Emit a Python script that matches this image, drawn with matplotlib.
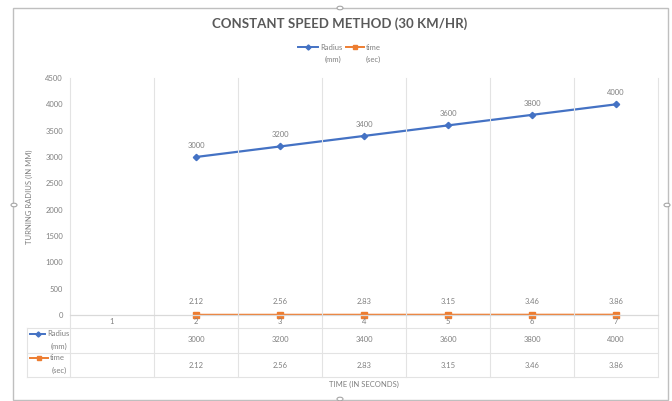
import numpy as np
import matplotlib.pyplot as plt
from matplotlib.lines import Line2D
from matplotlib.patches import Rectangle, Circle
from matplotlib.transforms import blended_transform_factory

categories = ["1", "2", "3", "4", "5", "6", "7"]
radius_mm = [np.nan, 3000, 3200, 3400, 3600, 3800, 4000]
time_sec = [np.nan, 2.12, 2.56, 2.83, 3.15, 3.46, 3.86]
radius_labels = ["", "3000", "3200", "3400", "3600", "3800", "4000"]
time_labels = ["", "2.12", "2.56", "2.83", "3.15", "3.46", "3.86"]
y_ticks = [0, 500, 1000, 1500, 2000, 2500, 3000, 3500, 4000, 4500]

BLUE = "#4472C4"
ORANGE = "#ED7D31"
TXT = "#808080"
TITLE = "#595959"
GRID = "#E3E3E3"
FONT = ["Lato", "DejaVu Sans"]

W, H = 672, 401
fig = plt.figure(figsize=(W / 100, H / 100), dpi=100)
plt.rcParams["font.family"] = FONT


def fx(px):
    return px / W


def fy(py):
    return 1 - py / H


def key(x0, x1, y, color, marker, ms):
    fig.add_artist(Line2D([fx(x0), fx(x1)], [fy(y), fy(y)], transform=fig.transFigure,
                          color=color, lw=1.4))
    fig.add_artist(Line2D([fx((x0 + x1) / 2)], [fy(y)], transform=fig.transFigure,
                          color=color, marker=marker, ms=ms, lw=0))


# chart frame with selection handles
fig.patches.append(Rectangle((fx(13), fy(400)), fx(668) - fx(13), fy(8) - fy(400),
                             transform=fig.transFigure, fill=False,
                             edgecolor="#BFBFBF", lw=1.0))
for hx, hy in [(14, 205), (667, 205), (340, 8), (340, 399)]:
    fig.patches.append(Circle((fx(hx), fy(hy)), 3 / W, transform=fig.transFigure,
                              facecolor="white", edgecolor="#A6A6A6", lw=0.8))

x = np.arange(1, len(categories) + 1)

ax = fig.add_axes([fx(70), fy(315), fx(658) - fx(70), fy(78) - fy(315)])
ax.set_xlim(0.5, len(categories) + 0.5)
ax.set_ylim(0, 4500)
for s in ax.spines.values():
    s.set_visible(False)
ax.set_xticks([])
ax.set_yticks(y_ticks)
ax.set_yticklabels([str(v) for v in y_ticks], fontsize=5.5, color=TXT)
ax.tick_params(axis="y", length=0, pad=5)

ax.plot(x, radius_mm, color=BLUE, lw=1.6, marker="D", ms=3.2, zorder=3)
ax.plot(x, time_sec, color=ORANGE, lw=1.6, marker="s", ms=4, zorder=3, clip_on=False)

for xi, v, lab in zip(x, radius_mm, radius_labels):
    if lab:
        ax.annotate(lab, (xi, v), xytext=(0, 8.5), textcoords="offset points",
                    ha="center", va="center", fontsize=5.5, color=TXT)
for xi, v, lab in zip(x, time_sec, time_labels):
    if lab:
        ax.annotate(lab, (xi, v), xytext=(0, 9.5), textcoords="offset points",
                    ha="center", va="center", fontsize=5.5, color=TXT)

ax.set_ylabel("TURNING RADIUS (IN MM)", fontsize=5.5, color=TXT, labelpad=9)

# data table under the plot
tr = blended_transform_factory(ax.transData, fig.transFigure)
head_left = 0.5 - (70 - 27) / 84.0
top_y, cat_y, r1_y, r2_y = 78, 328, 353, 377

for b in np.arange(0.5, len(categories) + 1):
    fig.add_artist(Line2D([b, b], [fy(top_y), fy(r2_y)], transform=tr,
                          color=GRID, lw=0.8))
fig.add_artist(Line2D([head_left, head_left], [fy(cat_y), fy(r2_y)], transform=tr,
                      color=GRID, lw=0.8))
fig.add_artist(Line2D([0.5, len(categories) + 0.5], [fy(315), fy(315)], transform=tr,
                      color="#D9D9D9", lw=0.9))
for yy in (cat_y, r1_y, r2_y):
    fig.add_artist(Line2D([head_left, len(categories) + 0.5], [fy(yy), fy(yy)],
                          transform=tr, color=GRID, lw=0.8))

for xi, c in zip(x, categories):
    fig.text(xi, fy(321), c, transform=tr, ha="center", va="center",
             fontsize=5.5, color=TXT)
for xi, lab in zip(x, radius_labels):
    fig.text(xi, fy(340), lab, transform=tr, ha="center", va="center",
             fontsize=5.5, color=TXT)
for xi, lab in zip(x, time_labels):
    fig.text(xi, fy(365), lab, transform=tr, ha="center", va="center",
             fontsize=5.5, color=TXT)

# row headers with legend keys
key(30, 45, 334, BLUE, "D", 2.6)
fig.text(fx(47), fy(334), "Radius", ha="left", va="center", fontsize=5.5, color=TXT)
fig.text(fx(67), fy(346), "(mm)", ha="right", va="center", fontsize=5.5, color=TXT)
key(30, 48, 358, ORANGE, "s", 3)
fig.text(fx(50), fy(358), "time", ha="left", va="center", fontsize=5.5, color=TXT)
fig.text(fx(67), fy(370), "(sec)", ha="right", va="center", fontsize=5.5, color=TXT)

fig.text(fx(364), fy(384), "TIME (IN SECONDS)", ha="center", va="center",
         fontsize=5.5, color=TXT)

# title and legend
fig.text(fx(340), fy(24), "CONSTANT SPEED METHOD (30 KM/HR)", ha="center", va="center",
         fontsize=9.5, fontweight="bold", color=TITLE)

key(298, 318, 47, BLUE, "D", 2.6)
fig.text(fx(320), fy(47), "Radius", ha="left", va="center", fontsize=5.5, color=TXT)
fig.text(fx(341), fy(59), "(mm)", ha="right", va="center", fontsize=5.5, color=TXT)
key(346, 364, 47, ORANGE, "s", 3)
fig.text(fx(366), fy(47), "time", ha="left", va="center", fontsize=5.5, color=TXT)
fig.text(fx(381), fy(59), "(sec)", ha="right", va="center", fontsize=5.5, color=TXT)

fig.savefig("out.png", dpi=100, facecolor="white")
